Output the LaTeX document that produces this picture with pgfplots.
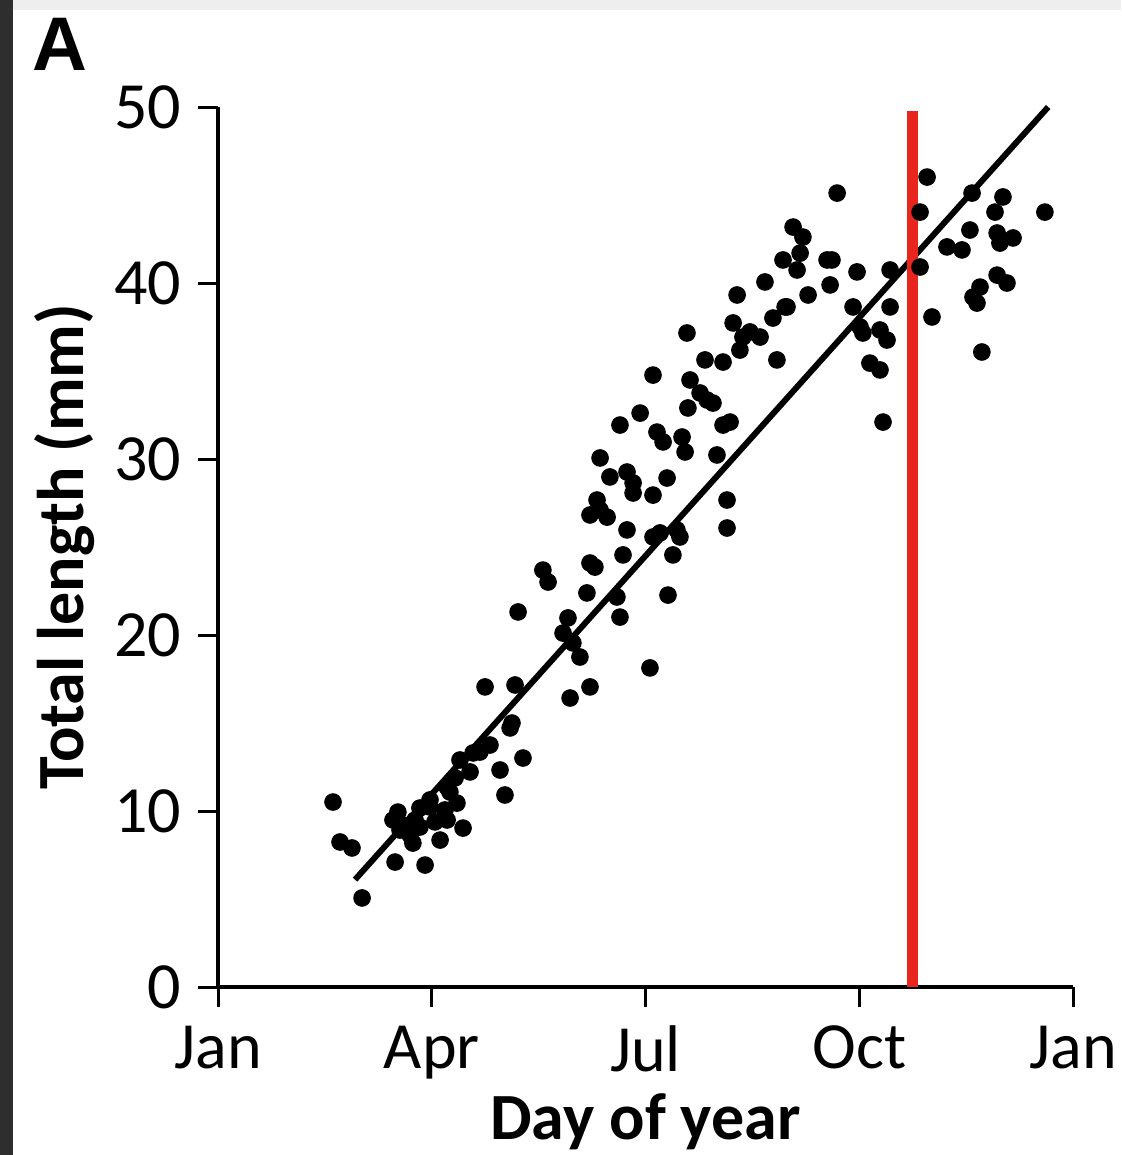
\documentclass[border=0pt]{standalone}
\usepackage{fontspec}
\setmainfont{Carlito}
\newfontfamily\panelfont{Liberation Sans}
\usepackage{pgfplots}
\pgfplotsset{compat=1.18}

\definecolor{frameDark}{HTML}{2E2E2E}
\definecolor{frameLight}{HTML}{EEEEEE}
\definecolor{cutRed}{HTML}{E8261E}

\pgfplotstableread{
day len
49.1 10.51
52.1 8.24
57.2 7.90
61.5 5.06
75.6 7.10
88.4 6.93
76.8 9.94
79.0 9.20
82.0 8.64
84.1 9.49
86.2 10.17
90.5 10.63
92.6 9.38
96.9 10.06
99.0 11.08
101.2 11.88
103.3 12.90
104.6 9.03
107.6 12.22
111.8 13.35
116.1 13.75
120.4 12.33
122.5 10.91
124.7 14.72
126.8 17.16
114.0 17.05
130.2 13.01
108.9 13.30
97.8 11.36
102.0 10.45
77.7 8.92
86.2 9.09
97.8 9.49
83.2 8.18
74.7 9.49
90.5 10.23
94.8 8.35
128.1 21.31
138.7 23.69
140.9 23.01
147.3 20.11
149.4 20.97
151.5 19.55
154.5 18.75
150.3 16.42
158.8 17.05
125.5 15.00
157.5 22.39
170.3 22.16
171.6 21.02
158.8 24.09
160.9 23.86
172.9 24.55
161.8 27.67
158.8 26.82
166.1 26.70
163.1 27.10
174.6 25.97
185.7 25.57
195.9 25.97
197.2 25.57
194.2 24.55
192.1 22.27
184.4 18.13
163.1 30.06
167.3 28.98
174.6 29.26
177.2 28.64
177.2 28.07
185.7 27.95
191.7 28.92
171.6 31.93
180.2 32.61
185.7 34.77
187.4 31.53
190.0 30.97
198.1 31.25
199.4 30.40
200.2 37.16
188.7 25.80
217.3 27.67
217.3 26.08
213.0 30.23
207.9 35.63
215.6 35.51
201.5 34.49
205.8 33.75
211.3 33.18
215.6 31.93
218.6 32.10
200.6 32.90
219.9 37.73
227.1 37.22
222.8 36.19
231.4 36.93
236.9 38.01
242.9 38.64
238.6 35.63
224.1 36.93
208.8 33.35
264.3 45.11
245.5 43.18
249.7 42.61
241.2 41.31
247.2 40.74
248.5 41.70
260.0 41.31
262.1 41.31
272.8 40.63
261.3 39.89
251.9 39.32
233.5 40.06
221.6 39.32
242.1 38.64
286.9 40.74
271.1 38.64
286.9 38.64
275.3 37.16
285.6 36.76
278.3 35.45
282.6 35.06
283.9 32.10
274.1 37.50
282.6 37.33
302.7 46.02
299.7 44.03
321.9 45.11
335.1 44.89
331.7 44.03
353.0 44.03
321.0 43.01
311.2 42.05
317.6 41.88
332.6 42.84
339.4 42.56
333.8 42.27
299.7 40.91
332.6 40.45
336.8 40.00
325.3 39.77
322.3 39.20
324.0 38.86
304.8 38.07
326.1 36.08
}\lengthdata

\begin{document}
\begin{tikzpicture}
\path[use as bounding box] (0,0) rectangle (560.5pt,-577.5pt);
\fill[frameLight] (0,0) rectangle (560.5pt,-5pt);
\fill[frameDark] (0,0) rectangle (6.5pt,-577.5pt);
\node[font=\panelfont\bfseries\fontsize{38}{40}\selectfont] at (30pt,-22pt) {A};
\begin{axis}[
  at={(109pt,-493.5pt)}, anchor=south west,
  scale only axis, width=427.5pt, height=440pt,
  xmin=0, xmax=365, ymin=0, ymax=50,
  axis x line*=bottom, axis y line*=left,
  axis line style={-, line width=2.2pt},
  xtick={0,91.25,182.5,273.75,365},
  xticklabels={Jan,Apr,Jul,Oct,Jan},
  ytick={0,10,20,30,40,50},
  tick align=outside,
  major tick length=10pt,
  tick style={line width=1.5pt, black},
  /pgf/number format/assume math mode=true,
  tick label style={font=\fontsize{33}{36}\selectfont},
  xticklabel style={yshift=-6pt},
  yticklabel style={xshift=-5pt},
  xlabel={Day of year},
  ylabel={Total length (mm)},
  label style={font=\bfseries\fontsize{33}{36}\selectfont},
  xlabel style={at={(axis description cs:0.5,-0.153)}, anchor=center},
  ylabel style={at={(axis description cs:-0.179,0.5)}, anchor=center},
  clip=false,
]
\addplot[only marks, mark=*, mark size=4.2pt, black] table[x=day, y=len] {\lengthdata};
\addplot[black, line width=3pt] coordinates {(58.5,6.1) (354.4,50)};
\addplot[cutRed, line width=5.5pt] coordinates {(296.3,0) (296.3,49.8)};
\end{axis}
\end{tikzpicture}
\end{document}
